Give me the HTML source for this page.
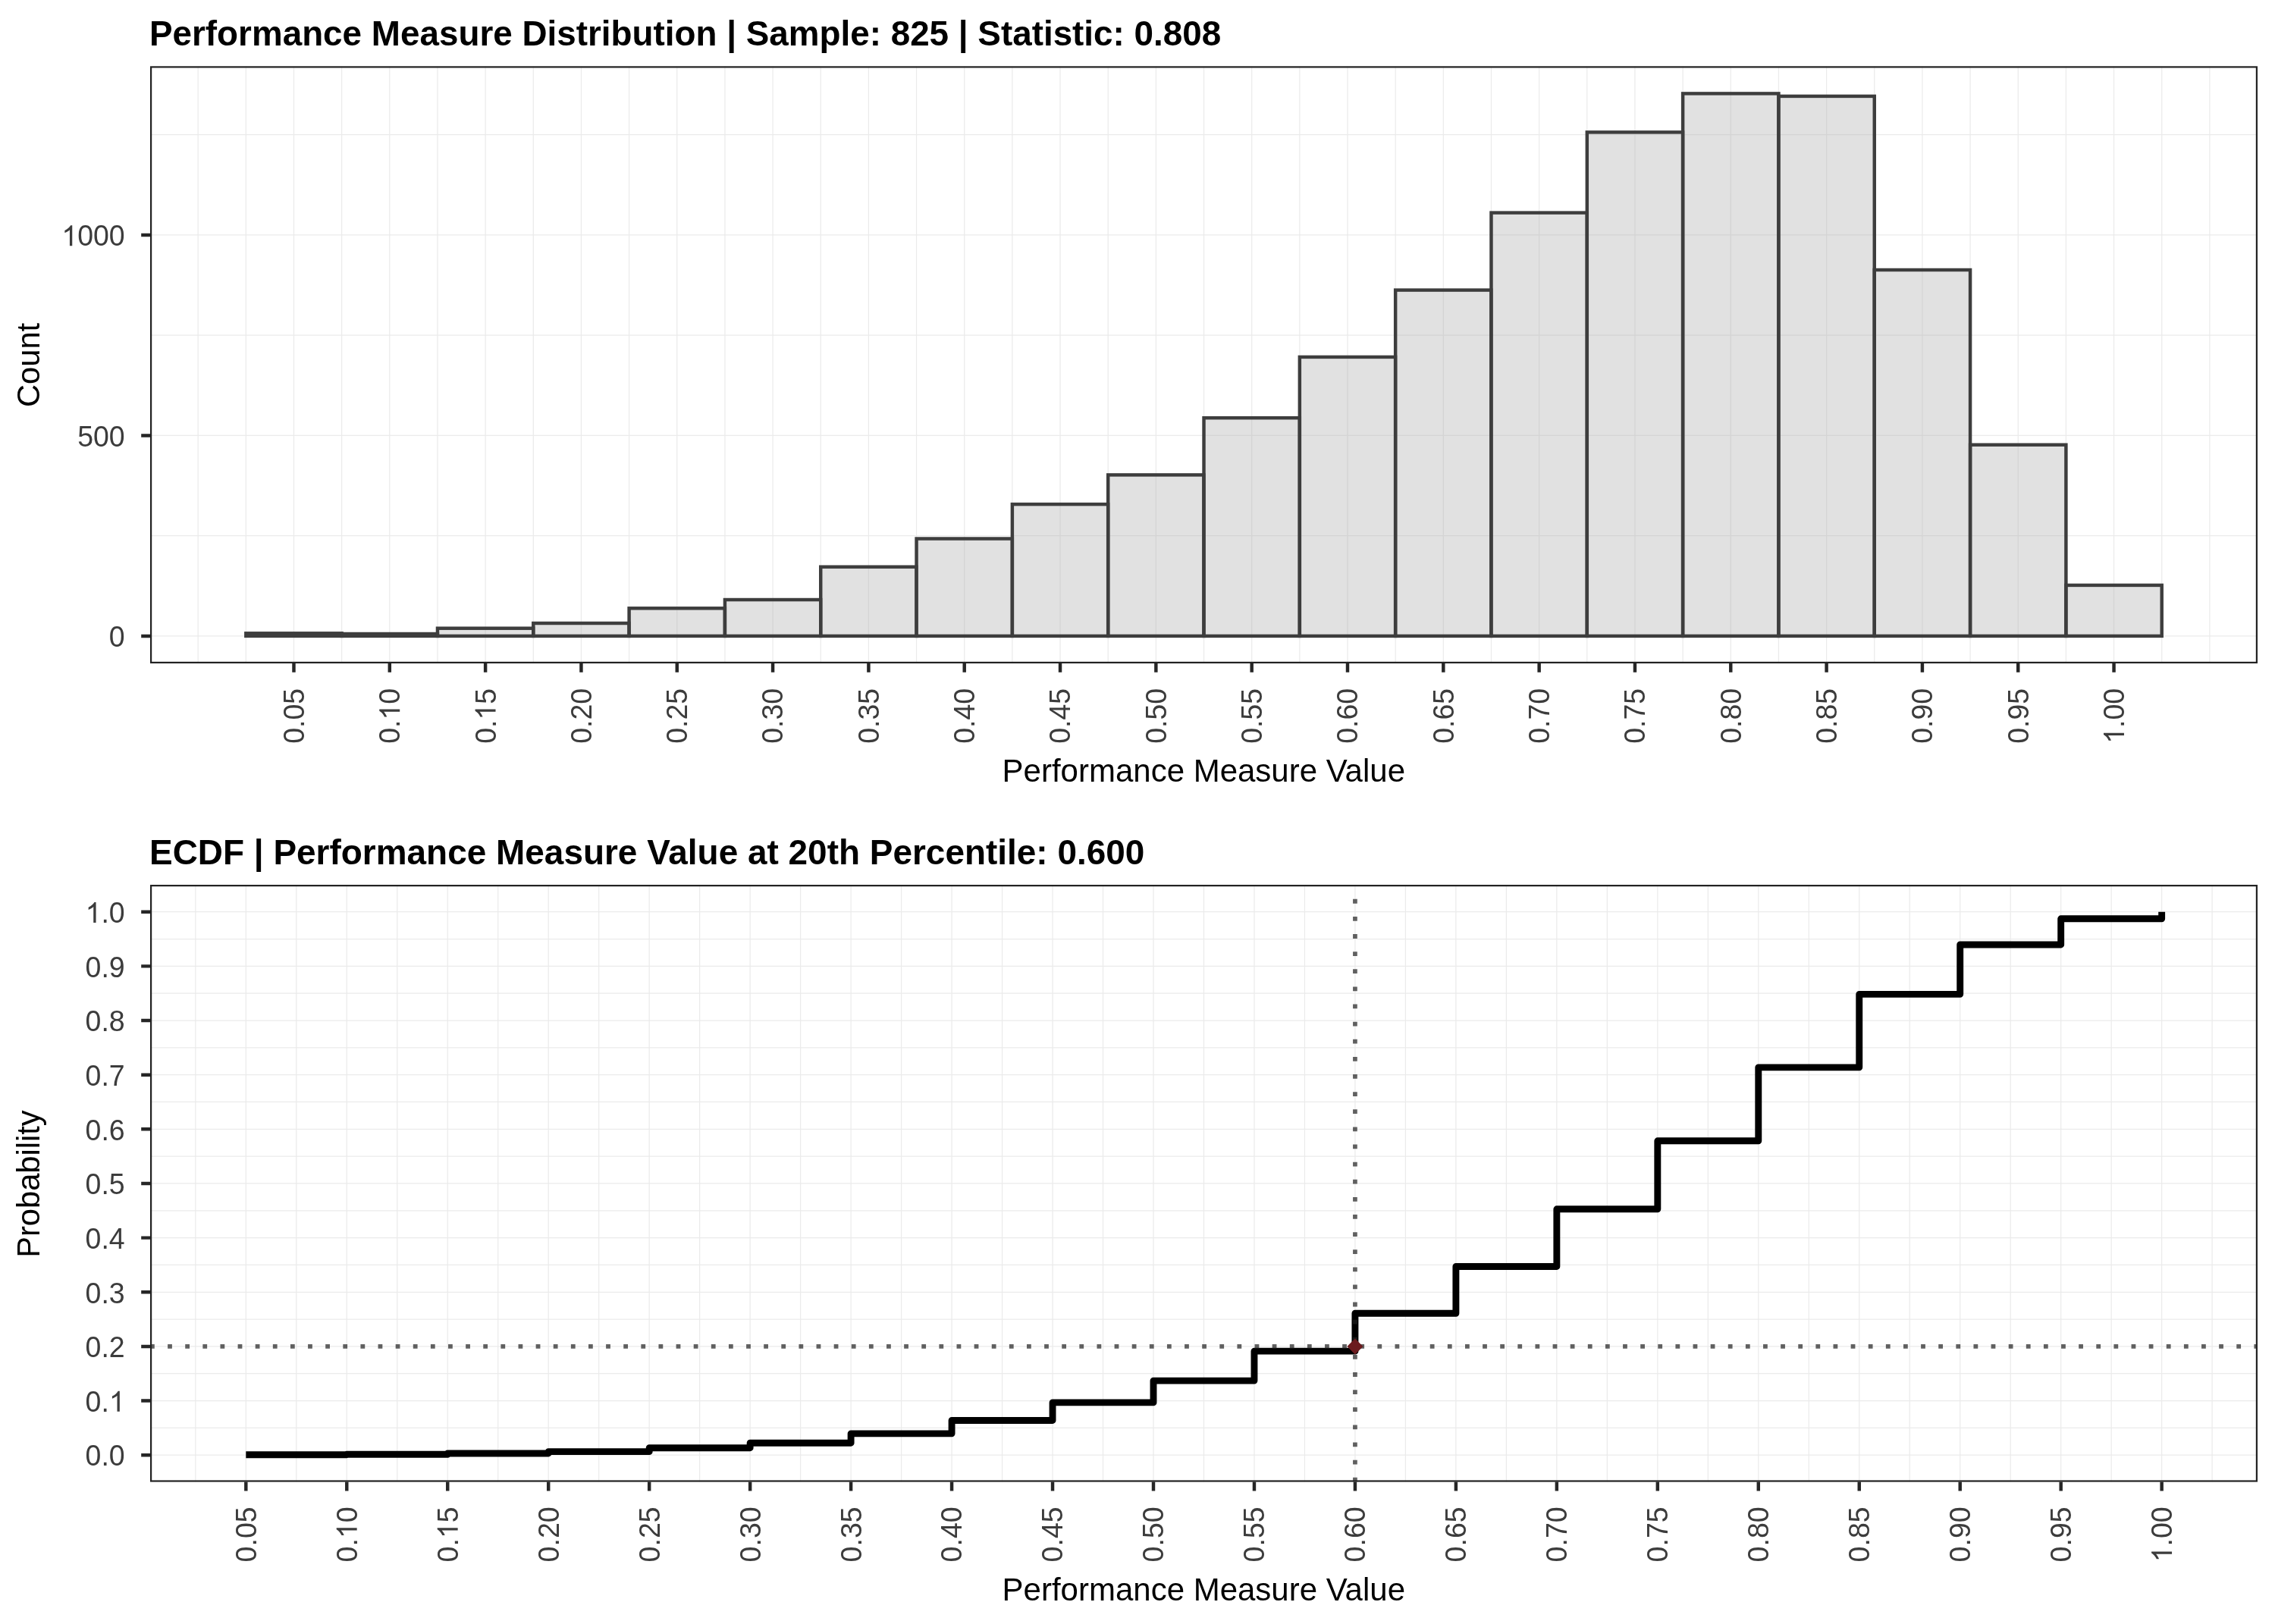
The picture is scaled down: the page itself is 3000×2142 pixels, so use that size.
<!DOCTYPE html>
<html><head><meta charset="utf-8"><title>Performance Measure Distribution</title>
<style>html,body{margin:0;padding:0;background:#fff;}svg{display:block;will-change:transform;}text{font-family:"Liberation Sans", sans-serif;}</style></head><body>
<svg width="3000" height="2142" viewBox="0 0 3000 2142">
<rect x="0" y="0" width="3000" height="2142" fill="#ffffff"/>
<defs><clipPath id="c1"><rect x="198.0" y="87.3" width="2779.0" height="787.7"/></clipPath><clipPath id="c2"><rect x="198.0" y="1167.0" width="2779.0" height="787.5999999999999"/></clipPath></defs>
<!-- panel 1 -->
<g clip-path="url(#c1)" stroke="#ebebeb" stroke-width="1.25" fill="none">
<path d="M261.16 87.3V875.0M324.32 87.3V875.0M387.48 87.3V875.0M450.64 87.3V875.0M513.80 87.3V875.0M576.96 87.3V875.0M640.12 87.3V875.0M703.28 87.3V875.0M766.44 87.3V875.0M829.60 87.3V875.0M892.76 87.3V875.0M955.92 87.3V875.0M1019.08 87.3V875.0M1082.24 87.3V875.0M1145.40 87.3V875.0M1208.56 87.3V875.0M1271.72 87.3V875.0M1334.88 87.3V875.0M1398.04 87.3V875.0M1461.20 87.3V875.0M1524.36 87.3V875.0M1587.52 87.3V875.0M1650.68 87.3V875.0M1713.84 87.3V875.0M1777.00 87.3V875.0M1840.16 87.3V875.0M1903.32 87.3V875.0M1966.48 87.3V875.0M2029.64 87.3V875.0M2092.80 87.3V875.0M2155.96 87.3V875.0M2219.12 87.3V875.0M2282.28 87.3V875.0M2345.44 87.3V875.0M2408.60 87.3V875.0M2471.76 87.3V875.0M2534.92 87.3V875.0M2598.08 87.3V875.0M2661.24 87.3V875.0M2724.40 87.3V875.0M2787.56 87.3V875.0M2850.72 87.3V875.0M2913.88 87.3V875.0M198.0 838.90H2977.0M198.0 706.65H2977.0M198.0 574.40H2977.0M198.0 442.15H2977.0M198.0 309.90H2977.0M198.0 177.65H2977.0"/></g>
<g clip-path="url(#c1)" fill="rgba(169,169,169,0.35)" stroke="#3d3d3d" stroke-width="4.45" stroke-linejoin="miter">
<rect x="324.32" y="835.30" width="126.32" height="3.60"/>
<rect x="450.64" y="836.00" width="126.32" height="2.90"/>
<rect x="576.96" y="828.70" width="126.32" height="10.20"/>
<rect x="703.28" y="822.00" width="126.32" height="16.90"/>
<rect x="829.60" y="802.30" width="126.32" height="36.60"/>
<rect x="955.92" y="791.00" width="126.32" height="47.90"/>
<rect x="1082.24" y="747.70" width="126.32" height="91.20"/>
<rect x="1208.56" y="710.50" width="126.32" height="128.40"/>
<rect x="1334.88" y="665.10" width="126.32" height="173.80"/>
<rect x="1461.20" y="626.40" width="126.32" height="212.50"/>
<rect x="1587.52" y="551.20" width="126.32" height="287.70"/>
<rect x="1713.84" y="470.90" width="126.32" height="368.00"/>
<rect x="1840.16" y="382.60" width="126.32" height="456.30"/>
<rect x="1966.48" y="280.60" width="126.32" height="558.30"/>
<rect x="2092.80" y="174.40" width="126.32" height="664.50"/>
<rect x="2219.12" y="123.40" width="126.32" height="715.50"/>
<rect x="2345.44" y="126.90" width="126.32" height="712.00"/>
<rect x="2471.76" y="356.00" width="126.32" height="482.90"/>
<rect x="2598.08" y="586.70" width="126.32" height="252.20"/>
<rect x="2724.40" y="771.90" width="126.32" height="67.00"/>
</g>
<rect x="199.10" y="88.40" width="2776.80" height="785.50" fill="none" stroke="#222222" stroke-width="2.2"/>
<path d="M387.48 875.0v11.8M513.80 875.0v11.8M640.12 875.0v11.8M766.44 875.0v11.8M892.76 875.0v11.8M1019.08 875.0v11.8M1145.40 875.0v11.8M1271.72 875.0v11.8M1398.04 875.0v11.8M1524.36 875.0v11.8M1650.68 875.0v11.8M1777.00 875.0v11.8M1903.32 875.0v11.8M2029.64 875.0v11.8M2155.96 875.0v11.8M2282.28 875.0v11.8M2408.60 875.0v11.8M2534.92 875.0v11.8M2661.24 875.0v11.8M2787.56 875.0v11.8" stroke="#262626" stroke-width="4.45" fill="none"/>
<path d="M198.0 838.90h-11.8M198.0 574.40h-11.8M198.0 309.90h-11.8" stroke="#262626" stroke-width="4.45" fill="none"/>
<g font-size="37.5" fill="#3c3c3c">
<g transform="translate(400.88 944.30) rotate(-90)"><text transform="translate(-36.49 0) scale(1 1.045)">0.05</text></g>
<g transform="translate(527.20 944.30) rotate(-90)"><text transform="translate(-36.49 0) scale(1 1.045)">0.</text><path transform="translate(-5.22 0) scale(0.01831 -0.01831)" d="M763 0H583V1147Q518 1085 412.5 1023T223 930V1104Q374 1175 487 1276T647 1472H763Z"/><text transform="translate(15.64 0) scale(1 1.045)">0</text></g>
<g transform="translate(653.52 944.30) rotate(-90)"><text transform="translate(-36.49 0) scale(1 1.045)">0.</text><path transform="translate(-5.22 0) scale(0.01831 -0.01831)" d="M763 0H583V1147Q518 1085 412.5 1023T223 930V1104Q374 1175 487 1276T647 1472H763Z"/><text transform="translate(15.64 0) scale(1 1.045)">5</text></g>
<g transform="translate(779.84 944.30) rotate(-90)"><text transform="translate(-36.49 0) scale(1 1.045)">0.20</text></g>
<g transform="translate(906.16 944.30) rotate(-90)"><text transform="translate(-36.49 0) scale(1 1.045)">0.25</text></g>
<g transform="translate(1032.48 944.30) rotate(-90)"><text transform="translate(-36.49 0) scale(1 1.045)">0.30</text></g>
<g transform="translate(1158.80 944.30) rotate(-90)"><text transform="translate(-36.49 0) scale(1 1.045)">0.35</text></g>
<g transform="translate(1285.12 944.30) rotate(-90)"><text transform="translate(-36.49 0) scale(1 1.045)">0.40</text></g>
<g transform="translate(1411.44 944.30) rotate(-90)"><text transform="translate(-36.49 0) scale(1 1.045)">0.45</text></g>
<g transform="translate(1537.76 944.30) rotate(-90)"><text transform="translate(-36.49 0) scale(1 1.045)">0.50</text></g>
<g transform="translate(1664.08 944.30) rotate(-90)"><text transform="translate(-36.49 0) scale(1 1.045)">0.55</text></g>
<g transform="translate(1790.40 944.30) rotate(-90)"><text transform="translate(-36.49 0) scale(1 1.045)">0.60</text></g>
<g transform="translate(1916.72 944.30) rotate(-90)"><text transform="translate(-36.49 0) scale(1 1.045)">0.65</text></g>
<g transform="translate(2043.04 944.30) rotate(-90)"><text transform="translate(-36.49 0) scale(1 1.045)">0.70</text></g>
<g transform="translate(2169.36 944.30) rotate(-90)"><text transform="translate(-36.49 0) scale(1 1.045)">0.75</text></g>
<g transform="translate(2295.68 944.30) rotate(-90)"><text transform="translate(-36.49 0) scale(1 1.045)">0.80</text></g>
<g transform="translate(2422.00 944.30) rotate(-90)"><text transform="translate(-36.49 0) scale(1 1.045)">0.85</text></g>
<g transform="translate(2548.32 944.30) rotate(-90)"><text transform="translate(-36.49 0) scale(1 1.045)">0.90</text></g>
<g transform="translate(2674.64 944.30) rotate(-90)"><text transform="translate(-36.49 0) scale(1 1.045)">0.95</text></g>
<g transform="translate(2800.96 944.30) rotate(-90)"><path transform="translate(-36.49 0) scale(0.01831 -0.01831)" d="M763 0H583V1147Q518 1085 412.5 1023T223 930V1104Q374 1175 487 1276T647 1472H763Z"/><text transform="translate(-15.64 0) scale(1 1.045)">.00</text></g>
</g>
<g font-size="37.5" fill="#3c3c3c">
<g transform="translate(164.7 853.15)"><text transform="translate(-20.86 0) scale(1 1.045)">0</text></g>
<g transform="translate(164.7 588.65)"><text transform="translate(-62.57 0) scale(1 1.045)">500</text></g>
<g transform="translate(164.7 324.15)"><path transform="translate(-83.42 0) scale(0.01831 -0.01831)" d="M763 0H583V1147Q518 1085 412.5 1023T223 930V1104Q374 1175 487 1276T647 1472H763Z"/><text transform="translate(-62.57 0) scale(1 1.045)">000</text></g>
</g>
<text transform="translate(197.0 59.9) scale(1 1.015)" font-size="45.83" font-weight="bold" fill="#000">Performance Measure Distribution | Sample: 825 | Statistic: 0.808</text>
<text transform="translate(1587.3 1031.4) scale(1 1.012)" font-size="42.0" fill="#000" text-anchor="middle">Performance Measure Value</text>
<text transform="translate(52.2 481.4) rotate(-90) scale(1 1.012)" font-size="41.67" fill="#000" text-anchor="middle">Count</text>
<!-- panel 2 -->
<g clip-path="url(#c2)" stroke="#ebebeb" stroke-width="1.25" fill="none">
<path d="M257.83 1167.0V1954.6M324.32 1167.0V1954.6M390.80 1167.0V1954.6M457.28 1167.0V1954.6M523.76 1167.0V1954.6M590.25 1167.0V1954.6M656.73 1167.0V1954.6M723.21 1167.0V1954.6M789.69 1167.0V1954.6M856.18 1167.0V1954.6M922.66 1167.0V1954.6M989.14 1167.0V1954.6M1055.62 1167.0V1954.6M1122.11 1167.0V1954.6M1188.59 1167.0V1954.6M1255.07 1167.0V1954.6M1321.55 1167.0V1954.6M1388.04 1167.0V1954.6M1454.52 1167.0V1954.6M1521.00 1167.0V1954.6M1587.48 1167.0V1954.6M1653.97 1167.0V1954.6M1720.45 1167.0V1954.6M1786.93 1167.0V1954.6M1853.41 1167.0V1954.6M1919.90 1167.0V1954.6M1986.38 1167.0V1954.6M2052.86 1167.0V1954.6M2119.34 1167.0V1954.6M2185.83 1167.0V1954.6M2252.31 1167.0V1954.6M2318.79 1167.0V1954.6M2385.27 1167.0V1954.6M2451.76 1167.0V1954.6M2518.24 1167.0V1954.6M2584.72 1167.0V1954.6M2651.20 1167.0V1954.6M2717.69 1167.0V1954.6M2784.17 1167.0V1954.6M2850.65 1167.0V1954.6M2917.13 1167.0V1954.6M198.0 1919.20H2977.0M198.0 1883.38H2977.0M198.0 1847.55H2977.0M198.0 1811.72H2977.0M198.0 1775.90H2977.0M198.0 1740.08H2977.0M198.0 1704.25H2977.0M198.0 1668.42H2977.0M198.0 1632.60H2977.0M198.0 1596.78H2977.0M198.0 1560.95H2977.0M198.0 1525.12H2977.0M198.0 1489.30H2977.0M198.0 1453.47H2977.0M198.0 1417.65H2977.0M198.0 1381.83H2977.0M198.0 1346.00H2977.0M198.0 1310.17H2977.0M198.0 1274.35H2977.0M198.0 1238.53H2977.0M198.0 1202.70H2977.0"/></g>
<g clip-path="url(#c2)" fill="none">
<path d="M324.32 1918.71H457.28V1918.32H590.25V1916.94H723.21V1914.65H856.18V1909.69H989.14V1903.20H1122.11V1890.84H1255.07V1873.45H1388.04V1849.90H1521.00V1821.11H1653.97V1782.13H1786.93V1732.27H1919.90V1670.45H2052.86V1594.81H2185.83V1504.78H2318.79V1407.84H2451.76V1311.37H2584.72V1245.95H2717.69V1211.78H2850.65V1202.70" stroke="#000" stroke-width="8.9" stroke-linejoin="round" stroke-linecap="butt"/>
<path d="M198.0 1775.90H2977.0" stroke="rgba(32,32,32,0.70)" stroke-width="5.78" stroke-dasharray="5.78 17.34"/>
<path d="M1786.93 1954.6V1167.0" stroke="rgba(32,32,32,0.70)" stroke-width="5.78" stroke-dasharray="5.78 17.34"/>
<path d="M1776.43 1775.90L1786.93 1765.40L1797.43 1775.90L1786.93 1786.40Z" fill="#6b1b1e" stroke="none"/>
</g>
<rect x="199.10" y="1168.10" width="2776.80" height="785.40" fill="none" stroke="#222222" stroke-width="2.2"/>
<path d="M324.32 1954.6v11.8M457.28 1954.6v11.8M590.25 1954.6v11.8M723.21 1954.6v11.8M856.18 1954.6v11.8M989.14 1954.6v11.8M1122.11 1954.6v11.8M1255.07 1954.6v11.8M1388.04 1954.6v11.8M1521.00 1954.6v11.8M1653.97 1954.6v11.8M1786.93 1954.6v11.8M1919.90 1954.6v11.8M2052.86 1954.6v11.8M2185.83 1954.6v11.8M2318.79 1954.6v11.8M2451.76 1954.6v11.8M2584.72 1954.6v11.8M2717.69 1954.6v11.8M2850.65 1954.6v11.8" stroke="#262626" stroke-width="4.45" fill="none"/>
<path d="M198.0 1919.20h-11.8M198.0 1847.55h-11.8M198.0 1775.90h-11.8M198.0 1704.25h-11.8M198.0 1632.60h-11.8M198.0 1560.95h-11.8M198.0 1489.30h-11.8M198.0 1417.65h-11.8M198.0 1346.00h-11.8M198.0 1274.35h-11.8M198.0 1202.70h-11.8" stroke="#262626" stroke-width="4.45" fill="none"/>
<g font-size="37.5" fill="#3c3c3c">
<g transform="translate(337.72 2023.90) rotate(-90)"><text transform="translate(-36.49 0) scale(1 1.045)">0.05</text></g>
<g transform="translate(470.68 2023.90) rotate(-90)"><text transform="translate(-36.49 0) scale(1 1.045)">0.</text><path transform="translate(-5.22 0) scale(0.01831 -0.01831)" d="M763 0H583V1147Q518 1085 412.5 1023T223 930V1104Q374 1175 487 1276T647 1472H763Z"/><text transform="translate(15.64 0) scale(1 1.045)">0</text></g>
<g transform="translate(603.65 2023.90) rotate(-90)"><text transform="translate(-36.49 0) scale(1 1.045)">0.</text><path transform="translate(-5.22 0) scale(0.01831 -0.01831)" d="M763 0H583V1147Q518 1085 412.5 1023T223 930V1104Q374 1175 487 1276T647 1472H763Z"/><text transform="translate(15.64 0) scale(1 1.045)">5</text></g>
<g transform="translate(736.61 2023.90) rotate(-90)"><text transform="translate(-36.49 0) scale(1 1.045)">0.20</text></g>
<g transform="translate(869.58 2023.90) rotate(-90)"><text transform="translate(-36.49 0) scale(1 1.045)">0.25</text></g>
<g transform="translate(1002.54 2023.90) rotate(-90)"><text transform="translate(-36.49 0) scale(1 1.045)">0.30</text></g>
<g transform="translate(1135.51 2023.90) rotate(-90)"><text transform="translate(-36.49 0) scale(1 1.045)">0.35</text></g>
<g transform="translate(1268.47 2023.90) rotate(-90)"><text transform="translate(-36.49 0) scale(1 1.045)">0.40</text></g>
<g transform="translate(1401.44 2023.90) rotate(-90)"><text transform="translate(-36.49 0) scale(1 1.045)">0.45</text></g>
<g transform="translate(1534.40 2023.90) rotate(-90)"><text transform="translate(-36.49 0) scale(1 1.045)">0.50</text></g>
<g transform="translate(1667.37 2023.90) rotate(-90)"><text transform="translate(-36.49 0) scale(1 1.045)">0.55</text></g>
<g transform="translate(1800.33 2023.90) rotate(-90)"><text transform="translate(-36.49 0) scale(1 1.045)">0.60</text></g>
<g transform="translate(1933.30 2023.90) rotate(-90)"><text transform="translate(-36.49 0) scale(1 1.045)">0.65</text></g>
<g transform="translate(2066.26 2023.90) rotate(-90)"><text transform="translate(-36.49 0) scale(1 1.045)">0.70</text></g>
<g transform="translate(2199.23 2023.90) rotate(-90)"><text transform="translate(-36.49 0) scale(1 1.045)">0.75</text></g>
<g transform="translate(2332.19 2023.90) rotate(-90)"><text transform="translate(-36.49 0) scale(1 1.045)">0.80</text></g>
<g transform="translate(2465.16 2023.90) rotate(-90)"><text transform="translate(-36.49 0) scale(1 1.045)">0.85</text></g>
<g transform="translate(2598.12 2023.90) rotate(-90)"><text transform="translate(-36.49 0) scale(1 1.045)">0.90</text></g>
<g transform="translate(2731.09 2023.90) rotate(-90)"><text transform="translate(-36.49 0) scale(1 1.045)">0.95</text></g>
<g transform="translate(2864.05 2023.90) rotate(-90)"><path transform="translate(-36.49 0) scale(0.01831 -0.01831)" d="M763 0H583V1147Q518 1085 412.5 1023T223 930V1104Q374 1175 487 1276T647 1472H763Z"/><text transform="translate(-15.64 0) scale(1 1.045)">.00</text></g>
</g>
<g font-size="37.5" fill="#3c3c3c">
<g transform="translate(164.7 1933.45)"><text transform="translate(-52.13 0) scale(1 1.045)">0.0</text></g>
<g transform="translate(164.7 1861.80)"><text transform="translate(-52.13 0) scale(1 1.045)">0.</text><path transform="translate(-20.86 0) scale(0.01831 -0.01831)" d="M763 0H583V1147Q518 1085 412.5 1023T223 930V1104Q374 1175 487 1276T647 1472H763Z"/></g>
<g transform="translate(164.7 1790.15)"><text transform="translate(-52.13 0) scale(1 1.045)">0.2</text></g>
<g transform="translate(164.7 1718.50)"><text transform="translate(-52.13 0) scale(1 1.045)">0.3</text></g>
<g transform="translate(164.7 1646.85)"><text transform="translate(-52.13 0) scale(1 1.045)">0.4</text></g>
<g transform="translate(164.7 1575.20)"><text transform="translate(-52.13 0) scale(1 1.045)">0.5</text></g>
<g transform="translate(164.7 1503.55)"><text transform="translate(-52.13 0) scale(1 1.045)">0.6</text></g>
<g transform="translate(164.7 1431.90)"><text transform="translate(-52.13 0) scale(1 1.045)">0.7</text></g>
<g transform="translate(164.7 1360.25)"><text transform="translate(-52.13 0) scale(1 1.045)">0.8</text></g>
<g transform="translate(164.7 1288.60)"><text transform="translate(-52.13 0) scale(1 1.045)">0.9</text></g>
<g transform="translate(164.7 1216.95)"><path transform="translate(-52.13 0) scale(0.01831 -0.01831)" d="M763 0H583V1147Q518 1085 412.5 1023T223 930V1104Q374 1175 487 1276T647 1472H763Z"/><text transform="translate(-31.27 0) scale(1 1.045)">.0</text></g>
</g>
<text transform="translate(197.0 1140.0) scale(1 1.015)" font-size="45.95" font-weight="bold" fill="#000">ECDF | Performance Measure Value at 20th Percentile: 0.600</text>
<text transform="translate(1587.3 2111.2) scale(1 1.012)" font-size="42.0" fill="#000" text-anchor="middle">Performance Measure Value</text>
<text transform="translate(52.2 1561.6) rotate(-90) scale(1 1.012)" font-size="41.67" fill="#000" text-anchor="middle">Probability</text>
</svg></body></html>
